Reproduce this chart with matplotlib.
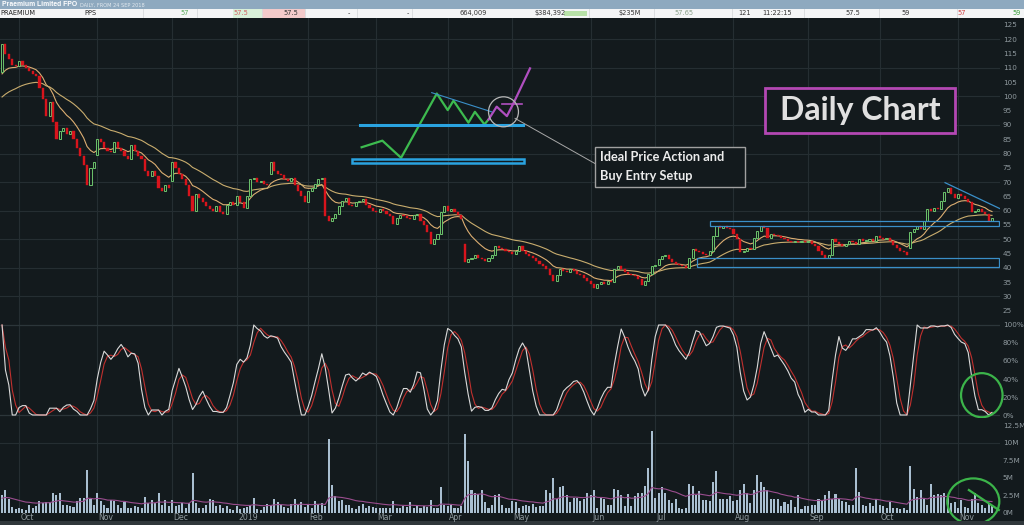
import matplotlib
matplotlib.use("Agg")
import matplotlib.pyplot as plt
import matplotlib.transforms as mtransforms
from matplotlib.patches import Rectangle, Ellipse
import numpy as np
import pandas as pd

W, H = 1024, 525
BG = "#131a1d"
GRID = "#252e32"
TXT = "#8f999e"
GREEN = "#6cc46c"
RED = "#d8141c"
CYAN = "#2aa3e0"
BLUE = "#3a8fc8"
CIRCLE_GREEN = "#3cb44a"

ASX_HOLIDAYS = ["2018-12-25", "2018-12-26", "2019-01-01", "2019-01-28",
                "2019-04-19", "2019-04-22", "2019-04-25", "2019-06-10"]

# daily closes, 24 Sep 2018 .. 15 Nov 2019
closes = [
    118.5, 115, 113, 111, 110.5, 112.5, 111, 110, 109, 108,
    107, 103, 99, 93, 98, 91, 85, 88, 89, 87,
    88, 85, 82, 79, 76, 69, 75, 77, 85, 84,
    82, 81, 80.5, 84, 82, 81, 79, 78, 83, 81,
    79, 78, 74, 72, 74, 72, 68, 67, 69, 68,
    77, 75, 73, 71, 69, 65, 60, 66, 64.5, 63,
    61.5, 60.5, 60, 61.5, 59.5, 59, 62, 63, 62, 65,
    63, 61, 65, 71, 71.5, 70, 70.5, 69.5, 69, 77,
    74, 73, 72.5, 71, 70.5, 71.5, 69, 67, 65, 63,
    67, 68, 69.5, 71, 71.5, 58, 56.5, 57.5, 59, 61.5,
    63.5, 64.5, 62, 61.5, 63, 63.5, 64, 62, 61, 60,
    59.5, 60.5, 60, 59, 58, 55.5, 57.5, 58.5, 58, 57.5,
    57, 58.5, 58.8, 56.5, 55, 52.5, 48.5, 50, 52, 59.5,
    61.5, 60, 60.5, 59.5, 58.5, 57, 42, 43, 43.5, 44.5,
    43.5, 43, 42.5, 43.5, 44.5, 47.5, 47, 46.5, 46, 45.5,
    45, 46, 47.5, 46, 45, 44, 43.5, 42.5, 41.5, 40.5,
    39.5, 37.5, 35.5, 37.5, 39.5, 39, 38.5, 39.5, 39, 38,
    37.5, 36.5, 35.5, 34.5, 33, 34.5, 35, 34.5, 35.5, 35,
    39.5, 40.5, 39.5, 38.5, 38, 37.5, 37, 36, 34, 35.5,
    38, 40.5, 41, 43, 44, 44.5, 43, 42, 41.5, 41,
    40.5, 40, 43.5, 46.5, 46, 45.5, 45, 44.5, 46, 51,
    54.5, 54, 54.5, 54, 53.5, 52, 50, 45.5, 46, 47,
    46.5, 50.5, 53, 54.5, 54, 50.5, 52, 51.5, 51, 50.5,
    50, 49.5, 49, 49.5, 49, 49.5, 49, 49.5, 48.5, 47.5,
    46, 44.5, 43.5, 44.5, 50, 49, 48.5, 47.5, 48.5, 49.5,
    49, 48.5, 50, 49.5, 49.5, 50, 49.5, 51, 50.5, 50,
    50.5, 49.5, 48, 47, 46, 45.5, 44.5, 52.5, 53.5, 54.5,
    53.5, 56.5, 60.5, 60, 61, 60.5, 63.5, 66.5, 68, 66,
    64.5, 66, 65, 64, 63, 59.5, 60, 60.5, 59.5, 59,
    56.5, 57.5,
]
# opens that gap away from the previous close
gap_opens = {0: 108.5, 28: 79.5, 50: 70.5, 79: 73.0, 136: 48.5, 267: 47.0}

# daily volume in millions
volume_m = [
    2.5, 3.2, 1.9, 0.75, 0.5, 0.6, 0.45, 0.4, 1.15, 0.65,
    1.0, 1.65, 1.4, 1.55, 1.55, 2.8, 2.5, 2.8, 1.15, 1.15,
    0.9, 0.75, 1.65, 2.1, 2.1, 6.1, 2.0, 1.15, 2.8, 1.65,
    1.05, 0.65, 1.75, 1.65, 1.15, 0.65, 1.5, 0.65, 0.65, 0.9,
    0.75, 0.6, 2.3, 1.4, 1.75, 1.4, 2.75, 1.15, 1.8, 0.9,
    1.75, 0.9, 1.15, 1.4, 0.65, 1.3, 5.7, 1.4, 0.65, 0.65,
    1.15, 2.0, 1.75, 0.9, 1.15, 0.6, 0.9, 0.45, 0.4, 1.0,
    0.45, 0.65, 0.75, 1.15, 2.1, 0.45, 0.4, 0.75, 1.25, 1.05,
    2.0, 1.5, 1.15, 0.75, 0.6, 1.25, 2.0, 1.15, 1.55, 0.75,
    1.25, 0.65, 1.65, 1.25, 1.4, 0.9, 10.5, 4.0, 2.35, 1.65,
    1.75, 1.15, 1.15, 0.6, 0.45, 0.9, 1.25, 0.65, 0.9, 0.75,
    0.65, 0.65, 0.6, 0.65, 0.65, 1.65, 0.65, 0.6, 0.9, 0.75,
    1.55, 0.65, 0.9, 0.65, 0.9, 0.75, 1.75, 0.65, 0.6, 3.7,
    1.05, 0.9, 1.15, 0.65, 0.6, 0.9, 11.3, 7.4, 3.2, 2.75,
    2.7, 3.2, 1.55, 0.65, 1.15, 2.5, 2.6, 1.05, 0.65, 0.65,
    1.65, 1.55, 0.65, 0.9, 1.15, 0.9, 1.25, 0.75, 0.9, 0.9,
    3.3, 2.75, 4.9, 2.0, 3.7, 3.75, 2.5, 1.55, 2.1, 2.1,
    1.65, 2.0, 2.8, 2.5, 3.3, 0.65, 2.1, 1.9, 1.15, 1.15,
    3.45, 3.3, 2.5, 0.9, 2.7, 0.9, 2.35, 2.8, 2.8, 3.8,
    6.45, 11.75, 2.1, 2.8, 3.7, 2.8, 1.75, 1.4, 1.9, 0.65,
    0.45, 0.65, 4.15, 3.8, 2.5, 3.1, 1.75, 1.75, 1.65, 4.45,
    5.9, 2.0, 2.0, 2.0, 2.35, 1.65, 1.75, 3.3, 4.05, 2.8,
    1.4, 3.3, 5.35, 4.45, 3.65, 3.3, 1.9, 1.9, 1.9, 0.9,
    1.55, 1.25, 1.75, 0.75, 2.5, 0.45, 0.9, 0.9, 1.15, 1.15,
    1.9, 1.65, 2.5, 3.1, 2.0, 2.7, 1.9, 1.65, 1.55, 1.15,
    1.05, 6.45, 3.0, 1.15, 0.9, 1.4, 0.9, 1.9, 1.15, 0.9,
    0.65, 1.55, 0.65, 0.65, 0.45, 0.6, 0.4, 6.7, 3.45, 2.2,
    3.3, 1.9, 1.15, 4.05, 2.45, 2.7, 2.5, 2.8, 2.35, 1.4,
    1.55, 0.65, 1.75, 0.75, 0.65, 1.9, 2.8, 1.4, 1.15, 0.65,
    1.25, 1.15,
]

# moving average starting levels read at the left edge
ma_fast_start, ma_slow_start, vol_ma_start = 105.5, 98.5, 2.0

price_ticks = list(range(25, 130, 5))
stoch_ticks = [0, 20, 40, 60, 80, 100]
stoch_labels = ["0%", "20%", "40%", "60%", "80%", "100%"]
vol_ticks = [0, 2.5, 5, 7.5, 10, 12.5]
vol_labels = ["0M", "2.5M", "5M", "7.5M", "10M", "12.5M"]

header_cells = [
    ("PRAEMIUM", 0, "left", "#222222"), ("PPS", 84, "left", "#222222"),
    ("57", 185, "center", "#5aaa5a"), ("57.5", 241, "center", "#d06060"),
    ("57.5", 291, "center", "#333333"), ("-", 349, "center", "#333333"),
    ("-", 408, "center", "#333333"), ("664,009", 487, "right", "#333333"),
    ("$384,392", 550, "center", "#333333"), ("$235M", 630, "center", "#333333"),
    ("57.65", 684, "center", "#8aa08a"), ("121", 745, "center", "#333333"),
    ("11:22:15", 777, "center", "#333333"), ("57.5", 853, "center", "#333333"),
    ("59", 906, "center", "#333333"), ("57", 962, "center", "#d04040"),
    ("59", 1017, "center", "#3aa03a"),
]
header_seps = [143, 197, 262, 305, 357, 412, 589, 654, 732, 804, 879, 957]

n = len(closes)
c = np.array(closes, dtype=float)
o = np.array([gap_opens.get(i, closes[i - 1] if i else closes[0]) for i in range(n)])
vol = np.array(volume_m, dtype=float)
idx = np.arange(n)
dates = pd.bdate_range("2018-09-24", periods=n, freq="C", holidays=ASX_HOLIDAYS)


def ema(values, span, seed):
    s = pd.Series([seed] + list(values)).ewm(span=span, adjust=False).mean()
    return s.iloc[1:].to_numpy()


ma_fast = ema(c, 10, ma_fast_start)
ma_slow = ema(c, 30, ma_slow_start)
vol_ma = ema(vol, 20, vol_ma_start)

cs = pd.Series(c)
lo = cs.rolling(14, min_periods=1).min()
hi = cs.rolling(14, min_periods=1).max()
rng = (hi - lo).replace(0, np.nan)
k_raw = (100 * (cs - lo) / rng).fillna(100)
stoch_k = k_raw.rolling(3, min_periods=1).mean()
stoch_d = stoch_k.rolling(3, min_periods=1).mean()

month_pos = [i for i in range(1, n) if dates[i].month != dates[i - 1].month]
month_lab = [("%d" % dates[i].year) if dates[i].month == 1 else dates[i].strftime("%b")
             for i in month_pos]

fig = plt.figure(figsize=(W / 100, H / 100), dpi=100, facecolor=BG)


def px_axes(x0, y0, x1, y1):
    ax = fig.add_axes([x0 / W, 1 - y1 / H, (x1 - x0) / W, (y1 - y0) / H])
    ax.set_facecolor(BG)
    for s in ax.spines.values():
        s.set_visible(False)
    return ax


XLIM = (-0.6, 293.35)
ax_p = px_axes(0, 17.5, 1000, 322)
ax_s = px_axes(0, 322, 1000, 418)
ax_v = px_axes(0, 418, 1000, 513)

for ax in (ax_p, ax_s, ax_v):
    ax.set_xlim(*XLIM)
    ax.yaxis.tick_right()
    ax.tick_params(axis="y", length=0, pad=2, labelsize=5.2, labelcolor=TXT)
    ax.tick_params(axis="x", bottom=False, labelbottom=False)
    for m in month_pos:
        ax.axvline(m, color=GRID, lw=0.8, zorder=0)

# price panel
ax_p.set_ylim(21.05, 127.6)
ax_p.set_yticks(price_ticks)
for g in range(30, 130, 10):
    ax_p.axhline(g, color=GRID, lw=0.8, zorder=0)

body = c - o
body = np.where(np.abs(body) < 0.3, np.where(body >= 0, 0.3, -0.3), body)
up = c >= o
ax_p.bar(idx[up], body[up], bottom=o[up], width=0.62, facecolor=BG,
         edgecolor=GREEN, linewidth=0.7, zorder=3)
ax_p.bar(idx[~up], body[~up], bottom=o[~up], width=0.62, color=RED,
         edgecolor=RED, linewidth=0.3, zorder=3)
ax_p.plot(idx, ma_fast, color="#dcae72", lw=0.8, zorder=2)
ax_p.plot(idx, ma_slow, color="#c9ad6e", lw=0.8, zorder=2)

# channel boxes and triangle on the right
ax_p.add_patch(Rectangle((208.1, 54.7), 85.0, 1.7, fill=False, edgecolor=BLUE, lw=0.9, zorder=4))
ax_p.add_patch(Rectangle((204.3, 40.4), 88.8, 2.9, fill=False, edgecolor=BLUE, lw=0.9, zorder=4))
ax_p.plot([277.2, 293.9], [69.8, 60.4], color=BLUE, lw=0.9, zorder=4)

# idealised setup sketch
zig_x = [105.7, 111.8, 117.3, 127.8, 131.0, 132.7, 137.1, 139.0, 141.8, 143.0]
zig_y = [82.2, 84.5, 78.5, 101.0, 95.2, 98.5, 90.8, 94.6, 90.2, 91.9]
pur_x = [143.0, 145.4, 148.4, 150.3, 155.2]
pur_y = [91.9, 96.4, 93.1, 97.5, 109.8]
ax_p.plot(zig_x, zig_y, color="#3dbb4f", lw=1.6, zorder=5)
ax_p.plot(pur_x, pur_y, color="#b04fc0", lw=1.6, zorder=5)
ax_p.plot([146.9, 152.8], [97.2, 97.2], color="#b04fc0", lw=1.2, zorder=5)
ax_p.plot([126.3, 143.9], [101.3, 94.6], color=BLUE, lw=0.8, zorder=5)
ax_p.plot([105.2, 153.2], [90.0, 90.0], color=CYAN, lw=2.2, zorder=5)
ax_p.add_patch(Rectangle((102.8, 76.6), 50.7, 1.6, fill=False, edgecolor=CYAN, lw=1.8, zorder=5))
ax_p.add_patch(Ellipse((147.4, 94.6), 8.8, 10.5, fill=False, edgecolor="#b8b8b8", lw=0.9, zorder=6))
ax_p.plot([150.8, 174.3], [92.3, 76.5], color="#a8a8a8", lw=0.7, zorder=5)
ax_p.add_patch(Rectangle((174.3, 68.4), 44.1, 14.0, facecolor=BG, edgecolor="#a0a0a0", lw=1.0, zorder=6))
ax_p.text(175.8, 78.9, "Ideal Price Action and", color="#ececec", fontsize=9.2,
          fontweight="bold", family="Lato", va="center", ha="left", zorder=7)
ax_p.text(175.8, 72.2, "Buy Entry Setup", color="#ececec", fontsize=9.2,
          fontweight="bold", family="Lato", va="center", ha="left", zorder=7)

ax_p.add_patch(Rectangle((224.3, 87.2), 55.8, 15.7, facecolor=BG, edgecolor="#b347b3", lw=2.0, zorder=6))
ax_p.text(252.2, 95.2, "Daily Chart", color="#e0e0e0", fontsize=23, fontweight="bold",
          family="Lato", va="center", ha="center", zorder=7)

# stochastic panel
ax_s.set_ylim(-3.33, 103.33)
ax_s.set_yticks(stoch_ticks)
ax_s.set_yticklabels(stoch_labels)
for g in (0, 100):
    ax_s.axhline(g, color="#2c363a", lw=0.9, zorder=0)
ax_s.plot(idx, stoch_d, color="#c0302e", lw=0.8, zorder=3)
ax_s.plot(idx, stoch_k, color="#dadada", lw=0.8, zorder=4)
ax_s.add_patch(Ellipse((288.0, 22.0), 12.2, 49.0, fill=False, edgecolor=CIRCLE_GREEN,
                       lw=1.6, zorder=6, clip_on=False))

# volume panel
ax_v.set_ylim(-0.07, 13.58)
ax_v.set_yticks(vol_ticks)
ax_v.set_yticklabels(vol_labels)
ax_v.axhline(10, color=GRID, lw=0.8, zorder=0)
ax_v.bar(idx, vol, width=0.6, color="#a9bfd1", zorder=3)
ax_v.plot(idx, vol_ma, color="#9a4d8e", lw=0.8, zorder=4)
ax_v.add_patch(Ellipse((285.5, 1.6), 15.3, 6.6, fill=False, edgecolor=CIRCLE_GREEN,
                       lw=1.6, zorder=6, clip_on=False))
ax_v.plot([284.2, 293.0], [3.23, 0.36], color=CIRCLE_GREEN, lw=1.6, zorder=6, clip_on=False)

# month labels along the bottom
tr = mtransforms.blended_transform_factory(ax_v.transData, fig.transFigure)
for m, lab in zip(month_pos, month_lab):
    fig.text(m + 0.4, 1 - 518 / H, lab, transform=tr, color=TXT, fontsize=5.6,
             ha="left", va="center")

fig.patches.append(Rectangle((0, 0), 1, 4 / H, transform=fig.transFigure,
                             facecolor="#30373b", edgecolor="none"))

# header bar and quote row
ax_h = px_axes(0, 0, W, 17.5)
ax_h.set_xlim(0, W)
ax_h.set_ylim(17.5, 0)
ax_h.axis("off")
ax_h.add_patch(Rectangle((0, 0), W, 9, facecolor="#8ea9bf", edgecolor="none"))
ax_h.add_patch(Rectangle((0, 9), W, 8.5, facecolor="#f4f5f6", edgecolor="none"))
ax_h.add_patch(Rectangle((233, 9), 29, 8.5, facecolor="#d9f0d9", edgecolor="none"))
ax_h.add_patch(Rectangle((262, 9), 43, 8.5, facecolor="#f3caca", edgecolor="none"))
ax_h.add_patch(Rectangle((564, 10.5), 23, 5.5, facecolor="#b8e2a8", edgecolor="none"))
for sx in header_seps:
    ax_h.plot([sx, sx], [9, 17.5], color="#d8dadc", lw=0.6)
ax_h.text(2, 4.6, "Praemium Limited FPO", color="white", fontsize=4.9,
          fontweight="bold", family="Liberation Sans", va="center", ha="left")
ax_h.text(80, 4.8, "DAILY, FROM 24 SEP 2018", color="#e2e9ef", fontsize=3.6,
          va="center", ha="left")
for txt, x, ha, col in header_cells:
    ax_h.text(x, 13.3, txt, color=col, fontsize=4.8, va="center", ha=ha)

fig.savefig("out.png", dpi=100, facecolor=BG)
